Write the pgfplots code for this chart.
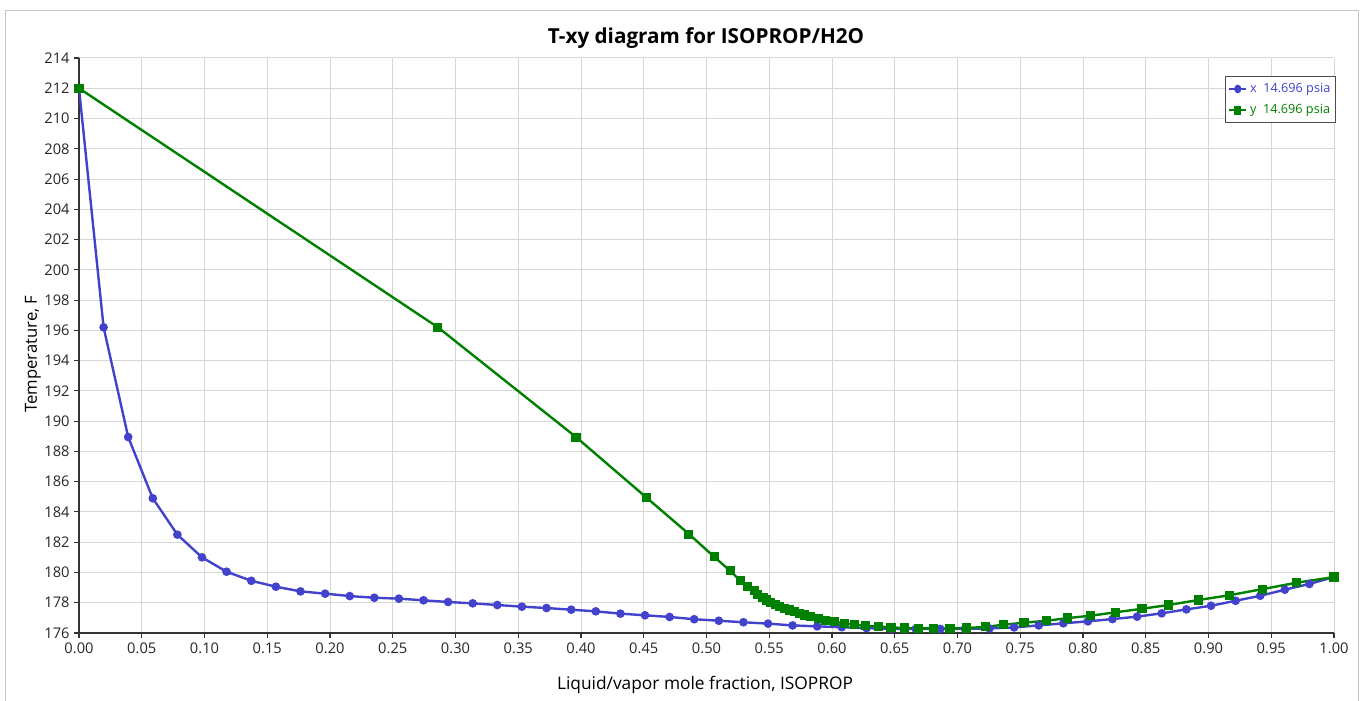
\documentclass[border=0pt]{standalone}
\usepackage{pgfplots}
\pgfplotsset{compat=1.18}
\usepackage{fontspec}
\setmainfont{Open Sans}
\definecolor{xblue}{RGB}{66,66,204}
\definecolor{ygreen}{RGB}{0,128,0}
\definecolor{gridgray}{RGB}{214,214,214}

\pgfplotstableread{
x T
0.0000 212.0
0.0196 196.2
0.0392 188.95
0.0588 184.9
0.0784 182.5
0.0980 181.0
0.1176 180.05
0.1373 179.45
0.1569 179.06
0.1765 178.75
0.1961 178.6
0.2157 178.44
0.2353 178.33
0.2549 178.27
0.2745 178.16
0.2941 178.05
0.3137 177.96
0.3333 177.85
0.3529 177.74
0.3725 177.65
0.3922 177.54
0.4118 177.43
0.4314 177.28
0.4510 177.17
0.4706 177.06
0.4902 176.91
0.5098 176.81
0.5294 176.71
0.5490 176.62
0.5686 176.5
0.5882 176.44
0.6078 176.38
0.6275 176.32
0.6471 176.28
0.6667 176.27
0.6863 176.27
0.7059 176.28
0.7255 176.3
0.7451 176.37
0.7647 176.5
0.7843 176.64
0.8039 176.77
0.8235 176.92
0.8431 177.08
0.8627 177.3
0.8824 177.56
0.9020 177.8
0.9216 178.13
0.9412 178.46
0.9608 178.86
0.9804 179.24
1.0000 179.7
}\liquid

\pgfplotstableread{
y T
0.000 212.0
0.286 196.2
0.396 188.95
0.452 184.96
0.486 182.54
0.506 181.04
0.519 180.1
0.527 179.45
0.533 179.1
0.538 178.8
0.541 178.55
0.545 178.36
0.548 178.18
0.551 178.03
0.555 177.9
0.558 177.76
0.562 177.63
0.566 177.52
0.570 177.41
0.574 177.3
0.578 177.19
0.583 177.08
0.589 176.97
0.595 176.84
0.602 176.75
0.610 176.64
0.618 176.55
0.627 176.47
0.637 176.43
0.647 176.37
0.658 176.33
0.669 176.31
0.681 176.3
0.694 176.3
0.707 176.33
0.722 176.4
0.737 176.55
0.753 176.68
0.771 176.81
0.788 176.99
0.806 177.14
0.826 177.37
0.847 177.6
0.868 177.85
0.892 178.18
0.917 178.5
0.943 178.9
0.970 179.32
1.000 179.7
}\vapor

\begin{document}
\begin{tikzpicture}[x=0.75pt,y=0.75pt]
\useasboundingbox (0,0) rectangle (1364,700);
\draw[gray!45] (5,-10) rectangle (1358,690);
\node[font=\fontsize{15.5}{18}\selectfont\bfseries] at (706,662) {T-xy diagram for ISOPROP/H2O};
\node[font=\fontsize{13}{15}\selectfont] at (705,15) {Liquid/vapor mole fraction, ISOPROP};
\node[font=\fontsize{12.5}{14}\selectfont, rotate=90] at (33,346) {Temperature, F};
\begin{axis}[
    at={(59.25pt,50.25pt)}, anchor=south west,
    width=941.25pt, height=431.25pt, scale only axis,
    xmin=0, xmax=1, ymin=176, ymax=214,
    xtick distance=0.05, ytick distance=2,
    grid=major, grid style={gridgray, line width=0.75pt},
    axis x line*=bottom, axis y line*=left,
    axis line style={black!80, line width=0.8pt},
    tick style={black!80, line width=0.8pt},
    tick align=outside, major tick length=3.5pt,
    /pgf/number format/assume math mode=true,
    ticklabel style={font=\fontsize{11}{13}\selectfont, text=black!85},
    x tick label style={/pgf/number format/.cd, fixed, fixed zerofill, precision=2},
    y tick label style={/pgf/number format/.cd, fixed, precision=0},
    legend style={at={(1.0015,0.968)}, anchor=north east, draw=black!70,
        font=\fontsize{9.5}{11}\selectfont, inner xsep=2pt, inner ysep=3pt, row sep=3.5pt},
    legend image post style={xscale=0.75},
    legend cell align=left,
]
\addplot[color=xblue, line width=1.8pt, mark=*, mark size=2.3pt] table[x=x, y=T] {\liquid};
\addlegendentry{\textcolor{xblue}{x\ \ 14.696 psia}}
\addplot[color=ygreen, line width=1.8pt, mark=square*, mark size=2.5pt] table[x=y, y=T] {\vapor};
\addlegendentry{\textcolor{ygreen}{y\ \ 14.696 psia}}
\end{axis}
\end{tikzpicture}
\end{document}
